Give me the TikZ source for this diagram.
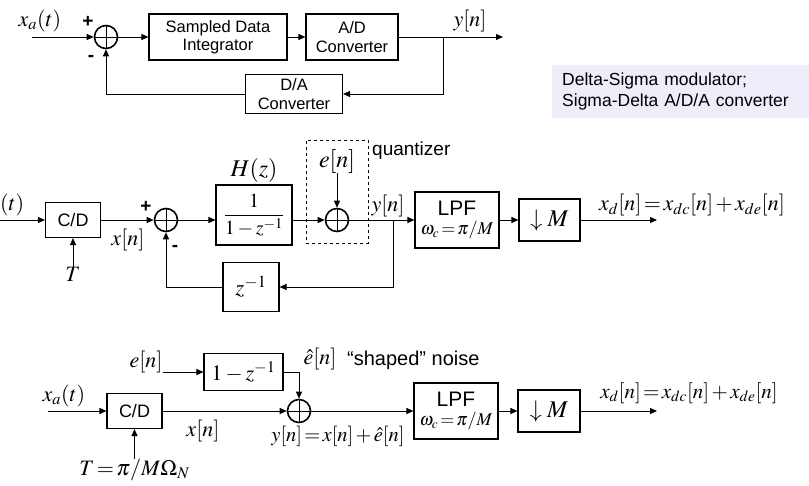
\documentclass[tikz,border=0pt]{standalone}
\usepackage{mathptmx}
\usepackage[no-math]{fontspec}
\setmainfont{Liberation Sans}
\usetikzlibrary{arrows.meta,positioning}

\definecolor{capfill}{RGB}{238,238,250}

\tikzset{
  blk/.style={draw, line width=1.1pt, inner sep=2pt, align=center,
    font=\fontsize{16.5}{18.5}\selectfont},
  sumnode/.style={circle, draw, line width=1.6pt, minimum size=23pt, inner sep=0pt,
    path picture={\draw[line width=1pt]
      (path picture bounding box.north) -- (path picture bounding box.south)
      (path picture bounding box.west) -- (path picture bounding box.east);}},
  sig/.style={-{Triangle[length=7pt,width=6pt]}, line width=1pt},
  lbl/.style={inner sep=0pt, font=\fontsize{22}{26}\selectfont},
  tight/.style={execute at begin node={\thickmuskip=2mu\medmuskip=2mu}},
  txt/.style={inner sep=0pt, font=\fontsize{19}{22}\selectfont},
  sgn/.style={inner sep=0pt, font=\bfseries\fontsize{19}{20}\selectfont},
}

\begin{document}
\begin{tikzpicture}[x=1pt, y=-1pt]
  \useasboundingbox (0,0) rectangle (809,485);

  % Top: Delta-Sigma loop
  \node[lbl] (xa1) at (40,21) {$x_a(t)$};
  \coordinate (in1) at (32,37);
  \node[sumnode] (s1) at (106,37) {};
  \node[sgn] at (88,22) {+};
  \node[sgn] at (91,58) {-};
  \node[blk, minimum width=138pt, minimum height=46pt] (sdi) at (218,37) {Sampled Data\\Integrator};
  \node[blk, minimum width=92pt, minimum height=46pt] (adc) at (352,37) {A/D\\Converter};
  \coordinate (b1) at (443,37);
  \coordinate (o1) at (503,37);
  \node[lbl] (yn1) at (470,21) {$y[n]$};
  \node[blk, minimum width=97pt, minimum height=39pt] (dac) at (294,94) {D/A\\Converter};

  \draw[sig] (in1) -- (s1);
  \draw[sig] (s1) -- (sdi);
  \draw[sig] (sdi) -- (adc);
  \draw[sig] (adc) -- (o1);
  \draw[sig] (b1) |- (dac);
  \draw[sig] (dac) -| (s1);

  % Caption
  \node[fill=capfill, anchor=north west, text width=237pt, inner xsep=10pt, inner ysep=0pt,
    minimum height=53pt, align=left, font=\fontsize{17.5}{21}\selectfont] (cap) at (552,65)
    {Delta-Sigma modulator;\\Sigma-Delta A/D/A converter};

  % Middle: discrete-time model
  \node[lbl] (xa2) at (3,205) {$x_a(t)$};
  \coordinate (in2) at (0,220);
  \node[blk, font=\fontsize{18}{20}\selectfont, minimum width=55pt, minimum height=35pt] (cd2) at (73,220) {C/D};
  \node[lbl, anchor=north] (T2) at (73,267) {$T$};
  \node[lbl] (xn2) at (128,240) {$x[n]$};
  \node[sumnode] (s2) at (166,220) {};
  \node[sgn] at (146,207) {+};
  \node[sgn] at (175,248) {-};
  \node[blk, minimum width=76pt, minimum height=60pt, font=\fontsize{20}{22}\selectfont] (hz) at (254,215) {$\displaystyle\frac{1}{1-z^{-1}}$};
  \node[lbl, font=\fontsize{24}{26}\selectfont] (hzl) at (254,170) {$H(z)$};
  \node[draw, dashed, line width=0.8pt, minimum width=62pt, minimum height=103pt, inner sep=0pt] (qz) at (337,191.5) {};
  \node[lbl, font=\fontsize{24}{26}\selectfont] (en2) at (337,161) {$e[n]$};
  \node[sumnode] (s3) at (337,220) {};
  \node[txt, anchor=west] (qzl) at (372,151) {quantizer};
  \node[lbl] (yn2) at (388,206) {$y[n]$};
  \coordinate (b2) at (393,220);
  \node[blk, minimum width=56pt, minimum height=49pt, font=\fontsize{23}{25}\selectfont] (zinv) at (251,287) {$z^{-1}$};
  \node[blk, tight, minimum width=84pt, minimum height=56pt, font=\fontsize{21}{21}\selectfont] (lpf2) at (457,220)
    {LPF\\[-2pt]{\fontsize{18}{19}\selectfont$\omega_c=\pi/M$}};
  \node[blk, minimum width=61pt, minimum height=42pt, font=\fontsize{24}{26}\selectfont] (dec2) at (549.5,220) {$\downarrow M$};
  \coordinate (o2) at (657,220);
  \node[lbl, tight] (xd2) at (692,205) {$x_d[n]=x_{dc}[n]+x_{de}[n]$};

  \draw[sig] (in2) -- (cd2);
  \draw[sig] (T2) -- (cd2);
  \draw[sig] (cd2) -- (s2);
  \draw[sig] (s2) -- (s2 -| hz.west);
  \draw[sig] (hz.east |- s3) -- (s3);
  \draw[sig] (en2) -- (s3);
  \draw[sig] (s3) -- (lpf2);
  \draw[sig] (lpf2) -- (dec2);
  \draw[sig] (dec2) -- (o2);
  \draw[sig] (b2) |- (zinv);
  \draw[sig] (zinv) -| (s2);

  % Bottom: noise-shaping equivalent
  \node[lbl] (en3) at (146,362) {$e[n]$};
  \node[blk, minimum width=79pt, minimum height=37pt, font=\fontsize{22}{24}\selectfont] (sh3) at (243.5,372) {$1-z^{-1}$};
  \node[lbl] (eh3) at (320,359) {$\hat{e}[n]$};
  \node[txt, font=\fontsize{20}{22}\selectfont, anchor=west] (shl) at (347,360) {“shaped” noise};
  \node[lbl] (xa3) at (64,396) {$x_a(t)$};
  \coordinate (in3) at (48,411);
  \node[blk, font=\fontsize{18}{20}\selectfont, minimum width=55pt, minimum height=35pt] (cd3) at (134.5,411) {C/D};
  \node[lbl, tight, font=\fontsize{22}{24}\selectfont, anchor=north] (T3) at (134.5,459) {$T=\pi/M\Omega_N$};
  \node[lbl] (xn3) at (203,431) {$x[n]$};
  \node[sumnode] (s4) at (299,411) {};
  \node[lbl, tight, font=\fontsize{20.5}{24}\selectfont] (yn3) at (338,436) {$y[n]=x[n]+\hat{e}[n]$};
  \node[blk, tight, minimum width=84pt, minimum height=56pt, font=\fontsize{21}{21}\selectfont] (lpf3) at (456,411)
    {LPF\\[-2pt]{\fontsize{18}{19}\selectfont$\omega_c=\pi/M$}};
  \node[blk, minimum width=62pt, minimum height=42pt, font=\fontsize{24}{26}\selectfont] (dec3) at (549,411) {$\downarrow M$};
  \coordinate (o3) at (657,411);
  \node[lbl, tight, font=\fontsize{21}{24}\selectfont] (xd3) at (689,393) {$x_d[n]=x_{dc}[n]+x_{de}[n]$};

  \draw[sig] (en3.east |- sh3) -- (sh3);
  \draw[sig] (sh3) -| (s4);
  \draw[sig] (in3) -- (cd3);
  \draw[sig] (T3) -- (cd3);
  \draw[sig] (cd3) -- (s4);
  \draw[sig] (s4) -- (lpf3);
  \draw[sig] (lpf3) -- (dec3);
  \draw[sig] (dec3) -- (o3);
\end{tikzpicture}
\end{document}
